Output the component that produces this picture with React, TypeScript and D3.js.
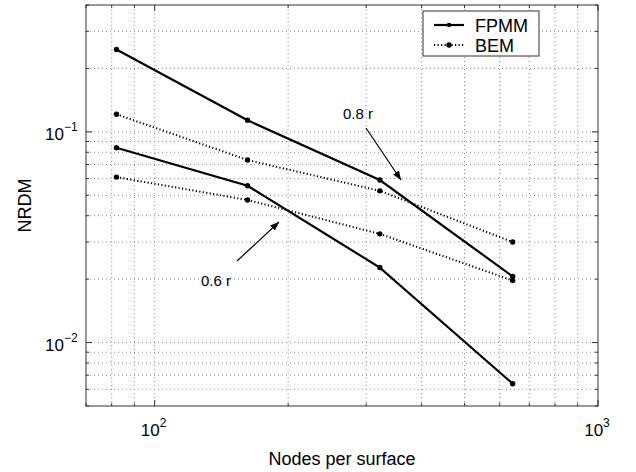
import React from 'react';
import * as d3 from 'd3';

// nodes per surface for every run
const nodes = [82, 162, 322, 642];

// NRDM values
const fpmm08 = [0.246, 0.1135, 0.0591, 0.0206];
const bem08 = [0.1212, 0.0735, 0.0525, 0.030];
const fpmm06 = [0.084, 0.0555, 0.0227, 0.00638];
const bem06 = [0.061, 0.0475, 0.0328, 0.0197];

const xTickLabels = [{ v: 100, exp: '2' }, { v: 1000, exp: '3' }];
const yTickLabels = [{ v: 0.1, exp: '\u22121' }, { v: 0.01, exp: '\u22122' }];

const WIDTH = 636;
const HEIGHT = 472;
const LEFT = 86;
const RIGHT = 598;
const TOP = 5;
const BOTTOM = 406;

const FONT = '"Liberation Sans", Arial, Helvetica, sans-serif';

const x = d3.scaleLog().domain([70, 1000]).range([LEFT, RIGHT]);
const y = d3.scaleLog().domain([0.005, 0.4]).range([BOTTOM, TOP]);

const xGrid = [70, 80, 90, 100, 200, 300, 400, 500, 600, 700, 800, 900, 1000];
const yGrid = [0.005, 0.006, 0.007, 0.008, 0.009, 0.01, 0.02, 0.03, 0.04, 0.05, 0.06, 0.07, 0.08, 0.09, 0.1, 0.2, 0.3, 0.4];

const line = d3.line<number>()
    .x((d, i) => x(nodes[i]))
    .y(d => y(d));

function Series({ values, dotted }: { values: number[], dotted: boolean }) {
    return (
        <g>
            <path d={line(values) || ''} fill='none' stroke='#000'
                strokeWidth={dotted ? 2 : 2.2}
                strokeDasharray={dotted ? '1.2 2.3' : undefined} />
            {values.map((v, i) => (
                <circle key={i} cx={x(nodes[i])} cy={y(v)} r={2.7} fill='#000' />
            ))}
        </g>
    );
}

export default function App() {
    const isMajorX = (v: number) => v === 100 || v === 1000;
    const isMajorY = (v: number) => v === 0.1 || v === 0.01;

    return (
        <svg width={WIDTH} height={HEIGHT} style={{ position: 'absolute', left: 0, top: 0, background: '#fff' }}
            fontFamily={FONT}>
            <defs>
                <marker id='arrow' viewBox='0 0 10 10' refX='10' refY='5' markerWidth='9' markerHeight='9'
                    markerUnits='userSpaceOnUse' orient='auto'>
                    <path d='M0,1 L10,5 L0,9 z' fill='#000' />
                </marker>
            </defs>
            <rect x={0} y={0} width={WIDTH} height={HEIGHT} fill='#fff' />

            {/* grid */}
            {xGrid.filter(v => v > 70 && v < 1000).map(v => (
                <line key={'gx' + v} x1={x(v)} x2={x(v)} y1={TOP} y2={BOTTOM}
                    stroke='#8a8a8a' strokeWidth={1} strokeDasharray='1 3' />
            ))}
            {yGrid.filter(v => v > 0.005 && v < 0.4).map(v => (
                <line key={'gy' + v} x1={LEFT} x2={RIGHT} y1={y(v)} y2={y(v)}
                    stroke='#8a8a8a' strokeWidth={1} strokeDasharray='1 3' />
            ))}

            {/* ticks, pointing inward on all four sides */}
            {xGrid.map(v => {
                const len = isMajorX(v) ? 6 : 3;
                return (
                    <g key={'tx' + v} stroke='#333' strokeWidth={1}>
                        <line x1={x(v)} x2={x(v)} y1={BOTTOM} y2={BOTTOM - len} />
                        <line x1={x(v)} x2={x(v)} y1={TOP} y2={TOP + len} />
                    </g>
                );
            })}
            {yGrid.map(v => {
                const len = isMajorY(v) ? 6 : 3;
                return (
                    <g key={'ty' + v} stroke='#333' strokeWidth={1}>
                        <line x1={LEFT} x2={LEFT + len} y1={y(v)} y2={y(v)} />
                        <line x1={RIGHT} x2={RIGHT - len} y1={y(v)} y2={y(v)} />
                    </g>
                );
            })}

            <rect x={LEFT} y={TOP} width={RIGHT - LEFT} height={BOTTOM - TOP}
                fill='none' stroke='#333' strokeWidth={1} />

            {/* data */}
            <Series values={bem08} dotted={true} />
            <Series values={bem06} dotted={true} />
            <Series values={fpmm08} dotted={false} />
            <Series values={fpmm06} dotted={false} />

            {/* annotations */}
            <text x={343} y={119} fontSize={15} fill='#000'>0.8 r</text>
            <line x1={366} y1={128} x2={401} y2={180} stroke='#000' strokeWidth={1.2} markerEnd='url(#arrow)' />
            <text x={201} y={286} fontSize={15} fill='#000'>0.6 r</text>
            <line x1={237} y1={261} x2={279} y2={222} stroke='#000' strokeWidth={1.2} markerEnd='url(#arrow)' />

            {/* tick labels */}
            {xTickLabels.map(t => (
                <text key={'xl' + t.v} x={x(t.v) - 1} y={436} fontSize={17} textAnchor='middle' fill='#000'>
                    10<tspan fontSize={12} dy={-9}>{t.exp}</tspan>
                </text>
            ))}
            {yTickLabels.map(t => (
                <text key={'yl' + t.v} x={45} y={y(t.v) + 8} fontSize={17} fill='#000'>
                    10<tspan fontSize={12} dy={-9}>{t.exp}</tspan>
                </text>
            ))}

            {/* axis titles */}
            <text x={(LEFT + RIGHT) / 2} y={465} fontSize={18} textAnchor='middle' fill='#000'>Nodes per surface</text>
            <text transform={`translate(31,${(TOP + BOTTOM) / 2}) rotate(-90)`} fontSize={18}
                textAnchor='middle' fill='#000'>NRDM</text>

            {/* legend */}
            <rect x={423} y={11} width={116} height={45} fill='#fff' stroke='#333' strokeWidth={1} />
            <line x1={434} x2={464} y1={25} y2={25} stroke='#000' strokeWidth={2.2} />
            <circle cx={449} cy={25} r={2.2} fill='#000' />
            <text x={475} y={31.5} fontSize={18} fill='#000'>FPMM</text>
            <line x1={434} x2={464} y1={45} y2={45} stroke='#000' strokeWidth={1.8} strokeDasharray='1.2 2.3' />
            <circle cx={449} cy={45} r={2.7} fill='#000' />
            <text x={475} y={51.5} fontSize={18} fill='#000'>BEM</text>
        </svg>
    );
}
